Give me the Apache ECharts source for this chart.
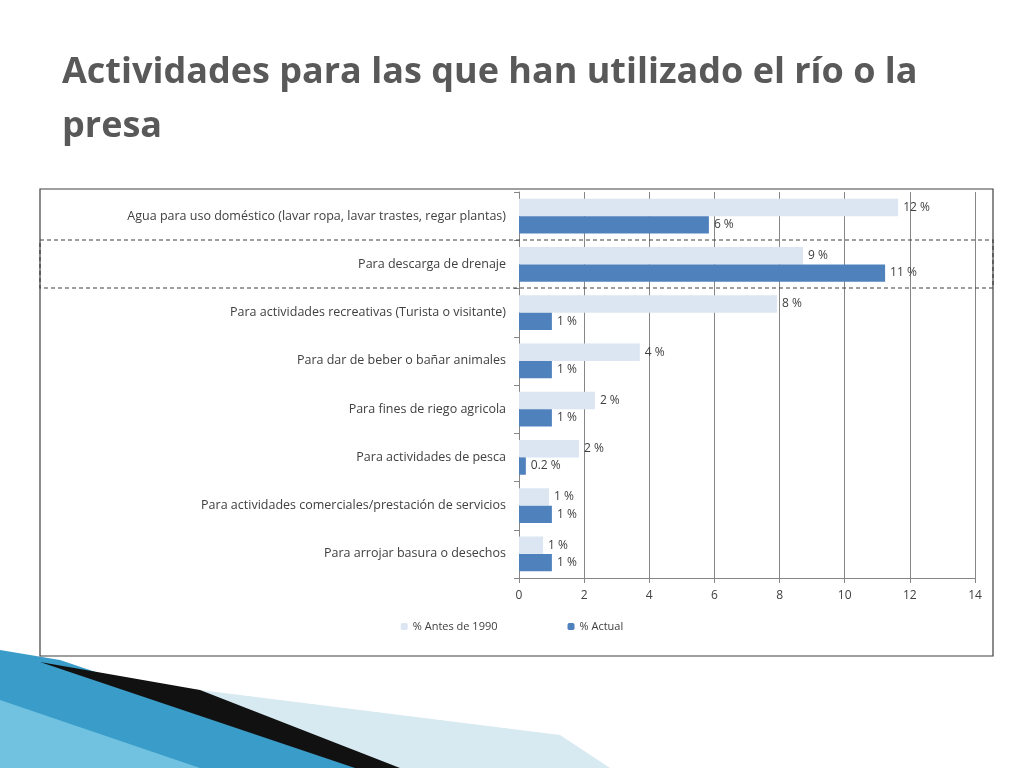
<!DOCTYPE html>
<html><head><meta charset="utf-8">
<script src="https://cdn.jsdelivr.net/npm/echarts@6/dist/echarts.min.js"></script>
<style>html,body{margin:0;padding:0;background:#fff}#c{width:1024px;height:768px}</style>
</head><body><div id="c"></div>
<script>
const categories = ["Agua para uso doméstico (lavar ropa, lavar trastes, regar plantas)","Para descarga de drenaje","Para actividades recreativas (Turista o visitante)","Para dar de beber o bañar animales","Para fines de riego agricola","Para actividades de pesca","Para actividades comerciales/prestación de servicios","Para arrojar basura o desechos"];
const antes = [11.64, 8.72, 7.92, 3.71, 2.33, 1.84, 0.92, 0.74];
const antesLabels = ["12 %","9 %","8 %","4 %","2 %","2 %","1 %","1 %"];
const actual = [5.83, 11.24, 1.01, 1.01, 1.01, 0.21, 1.01, 1.01];
const actualLabels = ["6 %","11 %","1 %","1 %","1 %","0.2 %","1 %","1 %"];
const xTicks = [0,2,4,6,8,10,12,14];

const chart = echarts.init(document.getElementById('c'));
const lbl = arr => ({show:true, position:'right', color:'#404040', fontSize:12, fontFamily:'Open Sans', formatter:p=>arr[p.dataIndex]});
chart.setOption({
  animation:false,
  textStyle:{fontFamily:'Open Sans'},
  graphic:[
    {type:'text', left:62, top:46, style:{text:'Actividades para las que han utilizado el río o la\npresa', font:'bold 36px "Open Sans"', fill:'#595959', lineHeight:54}},
    {type:'rect', shape:{x:40,y:189,width:953,height:467}, style:{fill:'none', stroke:'#404040', lineWidth:1.2}, z:-1},
    {type:'rect', shape:{x:40,y:240,width:953,height:48}, style:{fill:'none', stroke:'#404040', lineWidth:1.2, lineDash:[4,3]}, z:10},
    {type:'polygon', shape:{points:[[0,650],[60,660],[380,768],[0,768]]}, style:{fill:'#3a9cc8'}, z:-2},
    {type:'polygon', shape:{points:[[0,700],[200,768],[0,768]]}, style:{fill:'#70c2e0'}, z:-2},
    {type:'polygon', shape:{points:[[40,662],[200,690],[400,768],[355,768]]}, style:{fill:'#111'}, z:-2},
    {type:'polygon', shape:{points:[[120,680],[560,735],[610,768],[400,768]]}, style:{fill:'#d7e9f1'}, z:-3}
  ],
  legend:{bottom:131, left:'center', itemGap:70, itemWidth:7, itemHeight:7, textStyle:{fontSize:11,color:'#404040'}, data:['% Antes de 1990','% Actual']},
  grid:{left:519, right:49, top:192, bottom:190},
  xAxis:{type:'value', min:0, max:14, interval:2, axisLine:{show:true,lineStyle:{color:'#868686'}}, axisTick:{show:true,lineStyle:{color:'#868686'}},
    splitLine:{lineStyle:{color:'#868686'}}, axisLabel:{color:'#404040', fontSize:12, margin:12, formatter:v=>xTicks.includes(v)?String(v):''}},
  yAxis:{type:'category', inverse:true, data:categories, axisLine:{lineStyle:{color:'#868686'}}, axisTick:{show:true,lineStyle:{color:'#868686'}},
    axisLabel:{color:'#404040', fontSize:12.5, margin:13}},
  series:[
    {name:'% Antes de 1990', type:'bar', data:antes, itemStyle:{color:'#dce6f2'}, barGap:'0%', barCategoryGap:'28%', label:lbl(antesLabels)},
    {name:'% Actual', type:'bar', data:actual, itemStyle:{color:'#4f81bd'}, label:lbl(actualLabels)}
  ]
});
</script></body></html>
